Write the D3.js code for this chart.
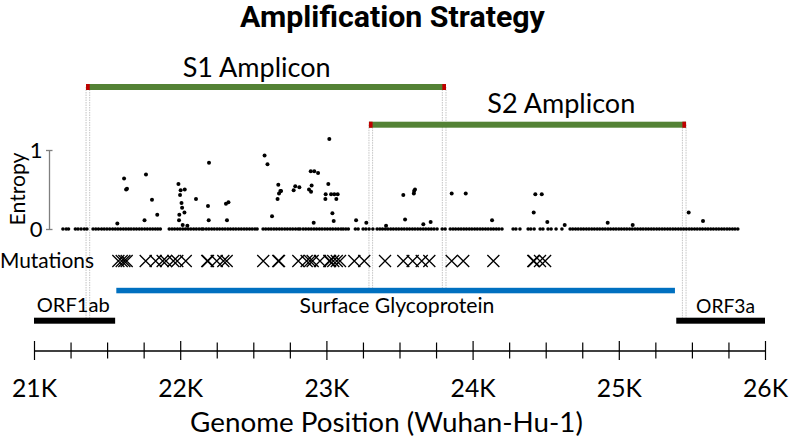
<!DOCTYPE html>
<html><head><meta charset="utf-8">
<script src="https://cdn.jsdelivr.net/npm/d3@7"></script>
<style>html,body{margin:0;padding:0;background:#fff}svg{display:block}</style>
</head><body>
<script>
// ---------------- DATA ----------------
const xTickValues = [21000,21250,21500,21750,22000,22250,22500,22750,23000,23250,23500,23750,24000,24250,24500,24750,25000,25250,25500,25750,26000];
const xMajorValues = [21000,22000,23000,24000,25000,26000];
const xMajorLabels = ["21K","22K","23K","24K","25K","26K"];
const yTickValues = [0,1];
const yTickLabels = ["0","1"];

const ampliconNames = ["S1 Amplicon","S2 Amplicon"];
const ampliconStart = [21356, 23291];
const ampliconEnd   = [23818, 25460];
const primerLength = 25;

const geneNames = ["ORF1ab","Surface Glycoprotein","ORF3a"];
const geneStart = [21000, 21563, 25393];
const geneEnd   = [21555, 25384, 26000];

// sites with elevated entropy
const sitePos = [21570,21616,21630,21636,21756,21766,21807,21843,21988,21992,21994,21999,22003,22009,22013,22017,22029,22031,22049,
  22108,22190,22195,22197,22313,22320,22330,22577,22597,22628,22666,22671,22676,22685,22690,22776,22787,22815,22881,22893,22895,22899,
  22913,22917,22943,22993,22995,23013,23020,23032,23041,23050,23054,23068,23077,23203,23273,23408,23526,23538,23598,23600,23606,23663,
  23713,23857,23953,24133,24418,24429,24473,24511,24630,24924,25095,25478,25576];
const siteEntropy = [0.07,0.64,0.50,0.51,0.11,0.69,0.37,0.18,0.57,0.11,0.18,0.43,0.49,0.33,0.27,0.05,0.21,0.50,0.04,
  0.38,0.29,0.11,0.84,0.32,0.11,0.34,0.93,0.82,0.16,0.38,0.56,0.45,0.48,0.48,0.49,0.54,0.53,0.50,0.73,0.47,0.55,
  0.08,0.73,0.71,0.38,0.44,0.57,1.14,0.44,0.20,0.10,0.44,0.38,0.44,0.11,0.08,0.04,0.43,0.12,0.45,0.48,0.50,0.06,
  0.09,0.45,0.45,0.11,0.21,0.44,0.44,0.09,0.05,0.08,0.05,0.21,0.10];
// sites with (near) zero entropy
const zeroSitePos = [21198,21220,21236,
  21283,21301,21322,21344,21362,
  21404,21423,21441,21462,21480,21499,21518,21538,
  21556,21574,21592,21611,21629,21647,21664,21683,21701,21720,21738,21757,21775,21794,21812,21830,21847,21864,
  21925,21944,21962,21981,21999,22018,22036,22055,22073,22092,22110,22129,22147,22158,
  22178,22196,22215,22233,22252,22270,22289,22307,22326,22344,22363,22381,22400,22418,22437,22455,22474,22492,22511,22526,
  22567,22585,22604,22622,22641,22659,22678,22696,22715,22733,22752,22770,22789,22807,22820,
  22841,22859,22878,22896,22915,22933,22952,22970,22989,23007,23026,23044,23063,23081,23100,23115,
  23133,23150,23198,23217,23251,23270,23292,23318,
  23347,23366,23384,23403,23421,23440,23458,23477,23495,23514,23532,23551,23569,23588,23606,23625,23643,23662,23680,23699,23717,23736,23757,
  23792,23812,
  23847,23866,23884,23903,23921,23940,23958,23977,23995,24014,24032,24051,24069,24088,24106,24125,24143,24162,24180,24201,
  24277,24296,24324,
  24380,24398,24421,24462,24481,24516,24537,24571,24611,
  24667,24685,24704,24722,24741,24759,24778,24796,24815,24833,24852,24870,24889,24907,24926,24944,24963,24981,25000,25018,25037,25055,
  25074,25092,25111,25129,25148,25166,25185,25203,25222,25240,25259,25277,25296,25314,25333,25351,25370,25388,25407,25425,25444,25462,
  25481,25499,25518,25536,25555,25573,25592,25610,25629,25647,25666,25684,25703,25721,25740,25758,25777,25795,25814];

const mutationPos = [21577,21600,21618,21634,21764,21832,21880,21903,21953,21980,22038,22185,22190,22250,22295,22318,22568,22671,22676,
  22808,22865,22888,22906,22956,23020,23025,23047,23071,23093,23191,23259,23401,23526,23590,23652,23704,23857,23936,24142,24415,24420,24461,24496];

// ---------------- DRAW ----------------
const W = 789, H = 441;
const FONT = "Lato, 'Open Sans', sans-serif";
const svg = d3.select("body").append("svg").attr("width", W).attr("height", H).attr("font-family", FONT);

const x = d3.scaleLinear().domain([21000, 26000]).range([34, 765]);
const y = d3.scaleLinear().domain([0, 1]).range([229, 150]);

function fit(sel, w){
  const l = sel.node().getComputedTextLength();
  const fs = parseFloat(sel.attr("font-size"));
  sel.attr("font-size", fs * w / l);
  return fs * w / l;
}

// title
fit(svg.append("text").attr("x", 392.5).attr("y", 26.5).attr("text-anchor","middle")
  .attr("font-family","Roboto, sans-serif")
  .attr("font-weight","bold").attr("font-size",24).text("Amplification Strategy"), 305);

// amplicon labels
const ampLabelX = [182.7, 487.3];
const ampLabelY = [77.3, 113.3];
const ampBarY = [87, 124.7];
let ampFs = 24;
ampliconNames.forEach((n,i)=>{
  const t = svg.append("text").attr("x", ampLabelX[i]).attr("y", ampLabelY[i]).attr("font-size", 24).text(n);
  if(i===0) ampFs = fit(t, 148); else t.attr("font-size", ampFs);
});

// guide lines at primers (drawn first)
const guide = svg.append("g").attr("stroke","#c4c4c4").attr("stroke-width",1).attr("stroke-dasharray","1.5,1");
const guideBottoms = [[322, 289], [289, 322]];
ampliconNames.forEach((n,i)=>{
  const s = ampliconStart[i], e = ampliconEnd[i];
  [[s, s+primerLength, guideBottoms[i][0]], [e-primerLength, e, guideBottoms[i][1]]].forEach(([a,b,bot])=>{
    [a,b].forEach(p=>{
      guide.append("line").attr("x1", x(p)).attr("x2", x(p)).attr("y1", ampBarY[i]).attr("y2", bot);
    });
  });
});

// amplicon bars
ampliconNames.forEach((n,i)=>{
  const g = svg.append("g");
  g.append("rect").attr("x", x(ampliconStart[i])).attr("width", x(ampliconEnd[i]) - x(ampliconStart[i]))
    .attr("y", ampBarY[i]-3).attr("height", 6).attr("fill", "#548235");
  g.append("rect").attr("x", x(ampliconStart[i])).attr("width", x(ampliconStart[i]+primerLength) - x(ampliconStart[i]))
    .attr("y", ampBarY[i]-3).attr("height", 6).attr("fill", "#C00000");
  g.append("rect").attr("x", x(ampliconEnd[i]-primerLength)).attr("width", x(ampliconEnd[i]) - x(ampliconEnd[i]-primerLength))
    .attr("y", ampBarY[i]-3).attr("height", 6).attr("fill", "#C00000");
});

// entropy axis
const yAxis = svg.append("g").attr("transform","translate(49,0)")
  .call(d3.axisLeft(y).tickValues(yTickValues).tickSizeInner(3).tickSizeOuter(0).tickPadding(7)
    .tickFormat((d,i)=>yTickLabels[i]));
yAxis.select(".domain").attr("stroke","#7f7f7f").attr("stroke-width",1.3);
yAxis.selectAll(".tick line").attr("x1",-3).attr("x2",3.5).attr("stroke","#7f7f7f").attr("stroke-width",1.3);
yAxis.selectAll(".tick text").attr("font-family",FONT).attr("font-size",22).attr("fill","#000").attr("x",-6.5).attr("dy","0.36em");

const entLab = svg.append("text").attr("transform","translate(25,189) rotate(-90)").attr("text-anchor","middle")
  .attr("font-size",20).text("Entropy");
fit(entLab, 73);

// entropy points
svg.append("g").selectAll("circle").data(zeroSitePos).join("circle")
  .attr("cx", d=>x(d)).attr("cy", y(0)).attr("r", 1.8).attr("fill","#000");
svg.append("g").selectAll("circle").data(sitePos).join("circle")
  .attr("cx", d=>x(d)).attr("cy", (d,i)=>y(siteEntropy[i])).attr("r", 2).attr("fill","#000");

// mutations
fit(svg.append("text").attr("x",0).attr("y",267.7).attr("font-size",20).text("Mutations"), 94);
const mY = 261, hs = 6;
svg.append("g").attr("stroke","#000").attr("stroke-width",1.3).attr("fill","none")
  .selectAll("path").data(mutationPos).join("path")
  .attr("d", d=>{ const cx = x(d); return `M${cx-hs},${mY-hs}L${cx+hs},${mY+hs}M${cx-hs},${mY+hs}L${cx+hs},${mY-hs}`; });

// genes
const geneBarY = [320.7, 290.8, 320.7];
const geneColor = ["#000","#0070C0","#000"];
geneNames.forEach((n,i)=>{
  svg.append("rect").attr("x", x(geneStart[i])).attr("width", x(geneEnd[i]) - x(geneStart[i]))
    .attr("y", geneBarY[i]-3).attr("height", i===1?5.5:6).attr("fill", geneColor[i]);
});
fit(svg.append("text").attr("x",36.7).attr("y",312.3).attr("font-size",20).text(geneNames[0]), 73);
fit(svg.append("text").attr("x",397).attr("y",312.5).attr("text-anchor","middle").attr("font-size",20).text(geneNames[1]), 195);
fit(svg.append("text").attr("x",696).attr("y",312.5).attr("font-size",20).text(geneNames[2]), 59);

// genome axis
const xAxis = svg.append("g").attr("transform","translate(0,350.5)")
  .call(d3.axisBottom(x).tickValues(xTickValues).tickSizeInner(9).tickSizeOuter(0)
    .tickFormat(d=>{ const k = xMajorValues.indexOf(d); return k>=0 ? xMajorLabels[k] : ""; }));
xAxis.select(".domain").attr("stroke","#000").attr("stroke-width",1.5);
xAxis.selectAll(".tick line").attr("y1", d=> xMajorValues.includes(d) ? -9.5 : -8).attr("y2", d=> xMajorValues.includes(d) ? 9.5 : 8)
  .attr("stroke","#000").attr("stroke-width",1.2);
const tl = xAxis.selectAll(".tick text").attr("font-family",FONT).attr("font-size",24).attr("fill","#000").attr("y",46.5).attr("dy",0);
const first = xAxis.select(".tick text");
const tfs = 24 * 45 / first.node().getComputedTextLength();
tl.attr("font-size", tfs);

fit(svg.append("text").attr("x",386.5).attr("y",432).attr("text-anchor","middle").attr("font-size",24)
  .text("Genome Position (Wuhan-Hu-1)"), 393);
</script>
</body></html>
